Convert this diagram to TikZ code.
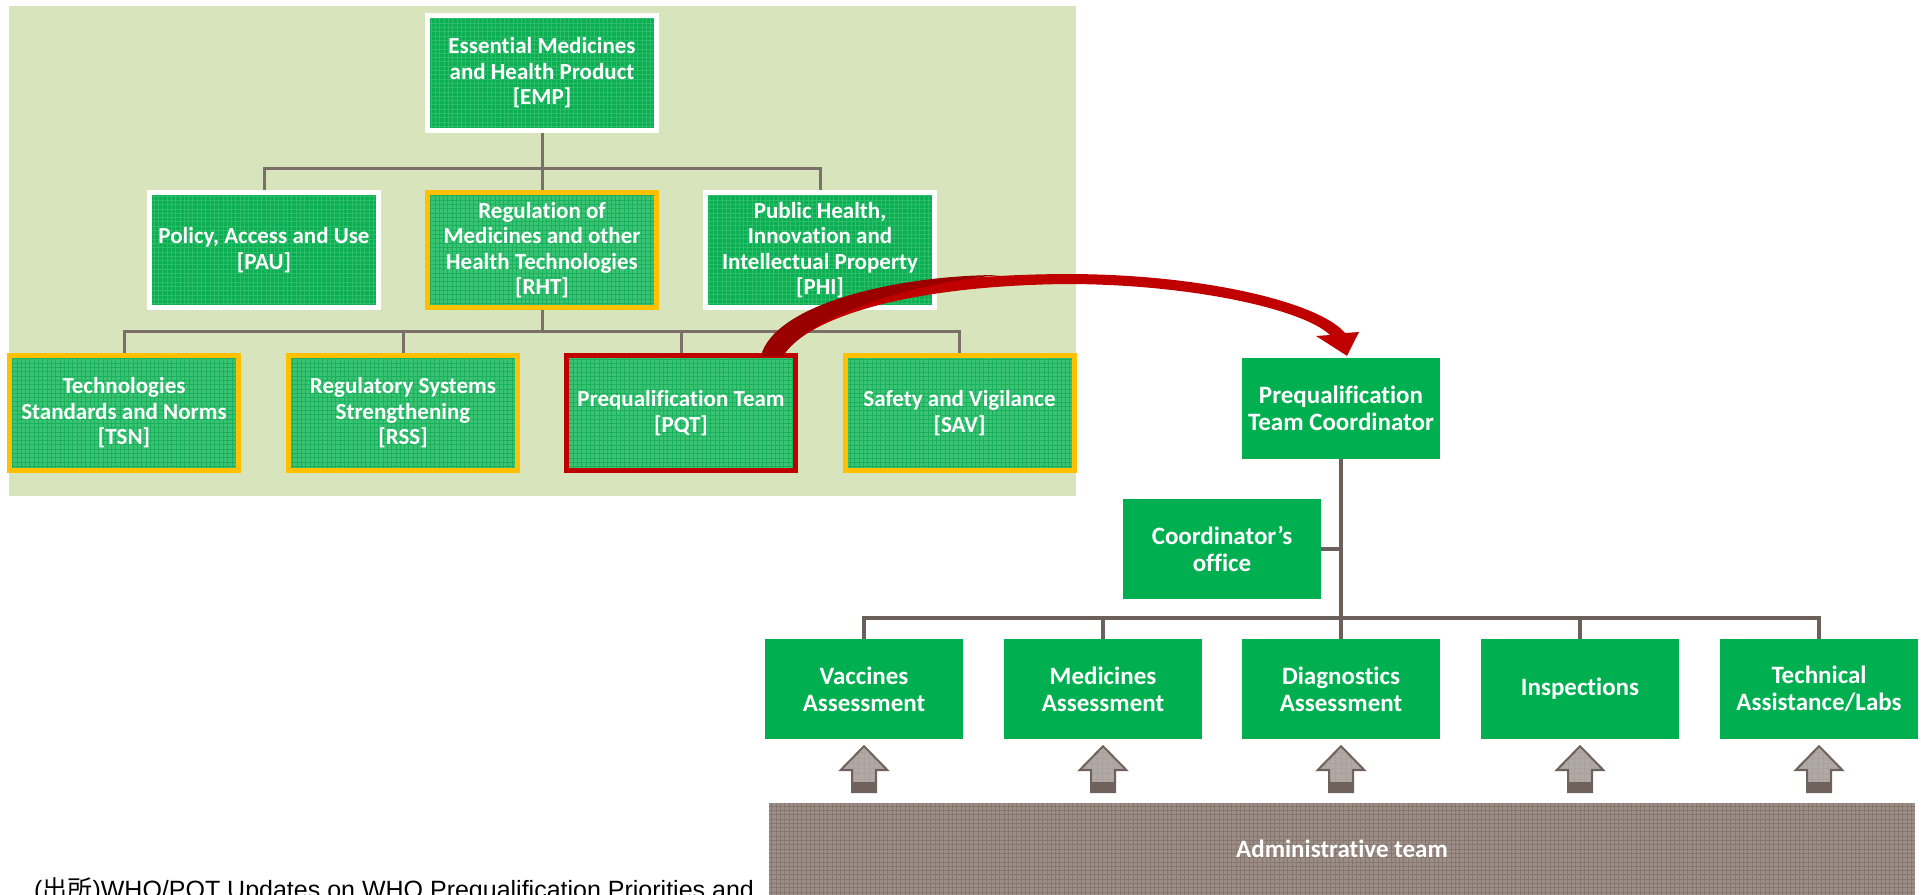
\documentclass[tikz,border=0pt]{standalone}
\usepackage{fontspec}
\setmainfont{Carlito}[Ligatures=NoCommon]
\newfontfamily\notefont{Liberation Sans}
\newfontfamily\cjkfont{Noto Sans CJK JP}
\usetikzlibrary{calc}

\definecolor{panelbg}{HTML}{D8E4BC}
\definecolor{boxgreen}{HTML}{0CAE53}
\definecolor{gridlight}{HTML}{2CBD69}
\definecolor{boxpale}{HTML}{3AC373}
\definecolor{griddark}{HTML}{1AB05D}
\definecolor{plaingreen}{HTML}{00B050}
\definecolor{gold}{HTML}{FFC000}
\definecolor{darkred}{HTML}{C00000}
\definecolor{deepred}{HTML}{9A0000}
\definecolor{linkgray}{HTML}{7B6F6A}
\definecolor{linkdark}{HTML}{6B605B}
\definecolor{admin}{HTML}{9C8D86}
\definecolor{admingrid}{HTML}{86786F}
\definecolor{arrowlight}{HTML}{B2A8A4}
\definecolor{arrowdark}{HTML}{6F625C}

\tikzset{
  x=1pt, y=-1pt,
  gridfill/.style 2 args={fill=#1, path picture={
      \draw[#2, line width=0.8pt, step=4.3pt]
        (path picture bounding box.south west) grid (path picture bounding box.north east);}},
  orgbox/.style={inner sep=0pt, align=center, text=white,
      minimum width=229pt, minimum height=115pt, line width=5pt,
      font=\bfseries\fontsize{23}{25.5}\selectfont},
  upperbox/.style={orgbox, draw=white, gridfill={boxgreen}{gridlight}},
  goldbox/.style={orgbox, draw=gold, gridfill={boxpale}{griddark}},
  redbox/.style={orgbox, draw=darkred, gridfill={boxpale}{griddark}},
  teambox/.style={inner sep=0pt, align=center, text=white, fill=plaingreen,
      minimum width=198pt, minimum height=100pt,
      font=\bfseries\fontsize{25}{27}\selectfont},
  link/.style={draw=linkgray, line width=3pt},
  linkbold/.style={draw=linkdark, line width=4.5pt},
}

\begin{document}
\begin{tikzpicture}
\useasboundingbox (0,0) rectangle (1921,894);
\clip (0,0) rectangle (1921,894);
\fill[white] (0,0) rectangle (1921,894);

% upper organisation panel
\fill[panelbg] (8.6,6) rectangle (1075.6,496);

\node[upperbox] (emp) at (542,73) {Essential Medicines\\and Health Product\\{[EMP]}};

\node[upperbox] (pau) at (264,250) {Policy, Access and Use\\{[PAU]}};
\node[goldbox]  (rht) at (542,250) {Regulation of\\Medicines and other\\Health Technologies\\{[RHT]}};
\node[upperbox] (phi) at (820,250) {Public Health,\\Innovation and\\Intellectual Property\\{[PHI]}};

\node[goldbox] (tsn) at (124,413) {Technologies\\Standards and Norms\\{[TSN]}};
\node[goldbox] (rss) at (403,413) {Regulatory Systems\\Strengthening\\{[RSS]}};
\node[redbox]  (pqt) at (681,413) {Prequalification Team\\{[PQT]}};
\node[goldbox] (sav) at (959.5,413) {Safety and Vigilance\\{[SAV]}};

% upper connectors
\draw[link] (emp.south) -- (rht.north);
\draw[link] (pau.north) -- ++(0,-22) -| (phi.north);
\draw[link] (rht.south) -- ++(0,21);
\draw[link] (tsn.north) -- ++(0,-22) -| (sav.north);
\draw[link] (rss.north) -- ++(0,-22);
\draw[link] (pqt.north) -- ++(0,-22);

% prequalification team structure
\node[teambox, minimum height=101pt] (pqtc) at (1341,408.5) {Prequalification\\Team Coordinator};
\node[teambox] (office) at (1222,549) {Coordinator’s\\office};

\node[teambox] (vac)  at (864,689)  {Vaccines\\Assessment};
\node[teambox] (med)  at (1103,689) {Medicines\\Assessment};
\node[teambox] (diag) at (1341,689) {Diagnostics\\Assessment};
\node[teambox] (insp) at (1580,689) {Inspections};
\node[teambox] (tech) at (1819,689) {Technical\\Assistance/Labs};

\draw[linkbold] (vac.north) -- ++(0,-21) -| (tech.north);
\draw[linkbold] (pqtc.south) -- (diag.north);
\draw[linkbold] (med.north) -- ++(0,-21);
\draw[linkbold] (insp.north) -- ++(0,-21);
\draw[linkbold] (office.east) -- (office.east -| pqtc.south);

% administrative team bar
\node[inner sep=0pt, minimum width=1146pt, minimum height=92pt,
      gridfill={admin}{admingrid}, text=white,
      font=\bfseries\fontsize{25}{27}\selectfont] (adm) at (1342,849) {Administrative team};

% support arrows from the administrative team
\foreach \n in {vac,med,diag,insp,tech}{
  \coordinate (t) at ([yshift=-7pt]\n.south);
  \begin{scope}
    \clip (t) -- ++(23.5,24) -- ++(-11.5,0) -- ++(0,22) -- ++(-24,0) -- ++(0,-22) -- ++(-11.5,0) -- cycle;
    \fill[arrowlight] ($(t)+(-30,-2)$) rectangle ($(t)+(30,50)$);
    \draw[arrowdark!60, line width=0.7pt, step=5.3pt] ($(t)+(-30,-2)$) grid ($(t)+(30,50)$);
    \fill[arrowdark] ($(t)+(-13,36)$) rectangle ($(t)+(13,47)$);
  \end{scope}
  \draw[arrowdark, line width=2pt, line join=miter]
    (t) -- ++(23.5,24) -- ++(-11.5,0) -- ++(0,22) -- ++(-24,0) -- ++(0,-22) -- ++(-11.5,0) -- cycle;
}

% curved arrow from PQT to the coordinator
\coordinate (ra) at ([shift={(-37,3)}]pqt.north east);
\coordinate (rb) at ([shift={(-15,3)}]pqt.north east);
\coordinate (rt) at ([shift={(6,-2)}]pqtc.north);
\fill[darkred] (ra) .. controls (775,303) and (900,275) .. (1066,274)
   .. controls (1205,274) and (1320,303) .. (1345,333)
   -- (1359,332) -- (rt) -- (1316,336) -- (1330,335)
   .. controls (1303,309) and (1190,284) .. (1066,284)
   .. controls (900,286) and (805,320) .. (rb) -- cycle;
\fill[deepred] (ra) .. controls (775,303) and (900,275) .. (1000,275)
   .. controls (900,284) and (805,320) .. (rb) -- cycle;

% source note
\node[anchor=base west, inner sep=0pt, font=\notefont\fontsize{25}{30}\selectfont]
  (note) at (34,898) {({\cjkfont 出所})WHO/PQT Updates on WHO Prequalification Priorities and};
\end{tikzpicture}
\end{document}
